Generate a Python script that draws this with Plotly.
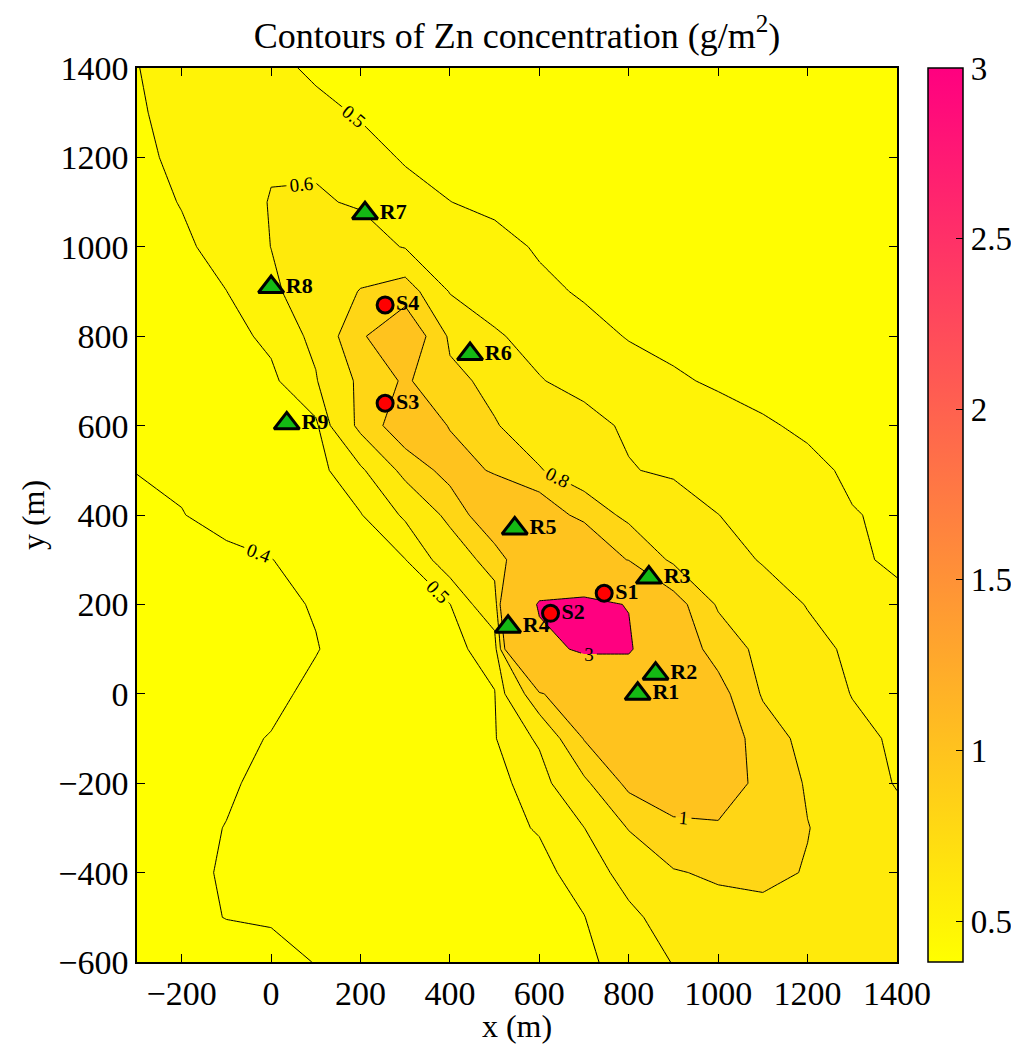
import plotly.graph_objects as go

# ---------------- data ----------------
x_grid = [-300, -200, -100, 0, 100, 200, 300, 400, 500, 600, 700, 800, 900, 1000, 1100, 1200, 1300, 1400]
y_grid = [-600, -500, -400, -300, -200, -100, 0, 100, 200, 300, 400, 500, 600, 700, 800, 900, 1000, 1100, 1200, 1300, 1400]

# Zn concentration (g/m^2), one row per y_grid value (bottom to top)
zn_conc = [
    [0.37, 0.375, 0.38, 0.39, 0.401, 0.41, 0.42, 0.435, 0.45, 0.465, 0.485, 0.53, 0.605, 0.66, 0.68, 0.67, 0.65, 0.62],
    [0.385, 0.39, 0.401, 0.403, 0.41, 0.42, 0.43, 0.44, 0.455, 0.47, 0.498, 0.57, 0.66, 0.72, 0.75, 0.74, 0.70, 0.65],
    [0.39, 0.395, 0.402, 0.41, 0.42, 0.43, 0.44, 0.45, 0.465, 0.48, 0.53, 0.65, 0.785, 0.83, 0.84, 0.79, 0.72, 0.66],
    [0.385, 0.39, 0.401, 0.41, 0.42, 0.435, 0.45, 0.465, 0.48, 0.505, 0.598, 0.81, 0.96, 0.98, 0.92, 0.805, 0.72, 0.65],
    [0.38, 0.385, 0.395, 0.41, 0.425, 0.44, 0.455, 0.465, 0.475, 0.54, 0.76, 1.05, 1.12, 1.10, 0.95, 0.78, 0.68, 0.59],
    [0.37, 0.38, 0.39, 0.402, 0.42, 0.44, 0.46, 0.475, 0.495, 0.62, 1.01, 1.2, 1.2, 1.15, 0.90, 0.737, 0.638, 0.58],
    [0.35, 0.36, 0.375, 0.39, 0.41, 0.43, 0.455, 0.478, 0.497, 0.95, 1.4, 1.4, 1.3, 1.08, 0.78, 0.684, 0.595, 0.56],
    [0.35, 0.36, 0.37, 0.385, 0.398, 0.42, 0.45, 0.48, 0.53, 2.6, 3.2, 3.2, 1.15, 0.92, 0.742, 0.646, 0.575, 0.53],
    [0.36, 0.37, 0.38, 0.39, 0.403, 0.43, 0.465, 0.498, 0.70, 3.15, 3.3, 2.95, 1.1, 0.776, 0.679, 0.593, 0.555, 0.515],
    [0.37, 0.38, 0.385, 0.398, 0.435, 0.466, 0.498, 0.668, 0.89, 1.3, 1.5, 0.97, 0.766, 0.666, 0.588, 0.549, 0.51, 0.49],
    [0.39, 0.398, 0.42, 0.445, 0.47, 0.495, 0.617, 0.85, 1.2, 1.2, 0.903, 0.759, 0.68, 0.601, 0.568, 0.535, 0.503, 0.49],
    [0.401, 0.41, 0.42, 0.44, 0.47, 0.57, 0.857, 1.08, 0.98, 0.81, 0.709, 0.607, 0.58, 0.558, 0.536, 0.515, 0.49, 0.48],
    [0.41, 0.42, 0.43, 0.45, 0.48, 0.85, 1.15, 0.99, 0.81, 0.72, 0.634, 0.584, 0.558, 0.532, 0.507, 0.49, 0.48, 0.47],
    [0.42, 0.43, 0.45, 0.48, 0.59, 0.84, 1.03, 0.84, 0.76, 0.605, 0.57, 0.54, 0.51, 0.49, 0.48, 0.47, 0.46, 0.45],
    [0.42, 0.44, 0.47, 0.52, 0.63, 0.97, 1.2, 0.77, 0.61, 0.57, 0.53, 0.495, 0.48, 0.47, 0.46, 0.45, 0.44, 0.43],
    [0.43, 0.46, 0.499, 0.58, 0.66, 0.81, 0.90, 0.59, 0.56, 0.52, 0.49, 0.47, 0.46, 0.45, 0.44, 0.44, 0.43, 0.43],
    [0.44, 0.48, 0.54, 0.601, 0.66, 0.67, 0.59, 0.56, 0.53, 0.49, 0.47, 0.46, 0.45, 0.44, 0.44, 0.43, 0.43, 0.42],
    [0.46, 0.505, 0.55, 0.605, 0.615, 0.585, 0.54, 0.501, 0.48, 0.47, 0.46, 0.45, 0.44, 0.44, 0.43, 0.43, 0.42, 0.42],
    [0.48, 0.52, 0.56, 0.59, 0.58, 0.54, 0.49, 0.47, 0.46, 0.45, 0.44, 0.43, 0.43, 0.42, 0.42, 0.42, 0.41, 0.41],
    [0.49, 0.53, 0.56, 0.56, 0.53, 0.49, 0.47, 0.45, 0.44, 0.43, 0.43, 0.42, 0.42, 0.42, 0.41, 0.41, 0.41, 0.41],
    [0.498, 0.53, 0.55, 0.53, 0.48, 0.46, 0.45, 0.44, 0.43, 0.43, 0.42, 0.42, 0.42, 0.41, 0.41, 0.41, 0.41, 0.41],
]

contour_levels = [0.4, 0.5, 0.6, 0.8, 1.0, 3.0]

receptor_names = ["R1", "R2", "R3", "R4", "R5", "R6", "R7", "R8", "R9"]
receptor_x = [820, 860, 845, 530, 545, 445, 210, 0, 35]
receptor_y = [0, 45, 260, 150, 370, 760, 1075, 910, 605]

source_names = ["S1", "S2", "S3", "S4"]
source_x = [745, 625, 255, 255]
source_y = [225, 180, 650, 870]

x_ticks = [-200, 0, 200, 400, 600, 800, 1000, 1200, 1400]
y_ticks = [-600, -400, -200, 0, 200, 400, 600, 800, 1000, 1200, 1400]
cbar_ticks = [0.5, 1, 1.5, 2, 2.5, 3]

# ---------------- style ----------------
CMIN, CMAX = 0.38, 3.0
C_LOW = (255, 255, 0)
C_HIGH = (255, 0, 128)
FONT = "Liberation Serif"


def cmap(v):
    t = (v - CMIN) / (CMAX - CMIN)
    t = min(max(t, 0.0), 1.0)
    r, g, b = (round(a + (b_ - a) * t) for a, b_ in zip(C_LOW, C_HIGH))
    return f"rgb({r},{g},{b})"


fig = go.Figure()

# filled bands: constraint "<" shades the region where z > level
for lev in contour_levels:
    fig.add_trace(go.Contour(
        x=x_grid, y=y_grid, z=zn_conc,
        contours=dict(type="constraint", operation="<", value=lev),
        fillcolor=cmap(lev), line=dict(width=0, smoothing=0),
        showscale=False, hoverinfo="skip",
    ))

# contour lines with labels
for lev in contour_levels:
    fig.add_trace(go.Contour(
        x=x_grid, y=y_grid, z=zn_conc,
        autocontour=False,
        contours=dict(start=lev, end=lev, size=0.1, coloring="lines",
                      showlabels=True, labelformat="~g",
                      labelfont=dict(family=FONT, size=19, color="black")),
        colorscale=[[0, "black"], [1, "black"]],
        line=dict(width=1, smoothing=0), showscale=False, hoverinfo="skip",
    ))

# colorbar carrier
fig.add_trace(go.Scatter(
    x=source_x[:1], y=source_y[:1], mode="markers",
    marker=dict(color=[CMIN], coloraxis="coloraxis", size=1, opacity=0),
    hoverinfo="skip", showlegend=False,
))

# receptors
fig.add_trace(go.Scatter(
    x=receptor_x, y=receptor_y, mode="markers+text", text=receptor_names,
    textposition="middle right",
    textfont=dict(family=FONT, size=22, color="black", weight="bold"),
    marker=dict(symbol="triangle-up", size=22, color="rgb(20,185,20)",
                line=dict(color="black", width=3)),
    hoverinfo="text", showlegend=False,
))

# sources
fig.add_trace(go.Scatter(
    x=source_x, y=source_y, mode="markers+text", text=source_names,
    textposition="middle right",
    textfont=dict(family=FONT, size=22, color="black", weight="bold"),
    marker=dict(symbol="circle", size=16, color="red",
                line=dict(color="black", width=3)),
    hoverinfo="text", showlegend=False,
))

axis_common = dict(
    showgrid=False, zeroline=False, showline=True, linecolor="black", linewidth=1.5,
    mirror="ticks", ticks="inside", ticklen=8, tickwidth=1, tickcolor="black",
    tickfont=dict(family=FONT, size=34, color="black"), automargin=False,
)

# page body has an 8px margin, so the figure is 8px smaller and margins shifted
fig.update_layout(
    width=1011, height=1036,
    margin=dict(l=129, r=122, t=60, b=82, autoexpand=False),
    paper_bgcolor="white",
    plot_bgcolor=cmap(CMIN),
    font=dict(family=FONT, size=30, color="black"),
    showlegend=False,
    title=dict(text="Contours of Zn concentration (g/m<sup>2</sup>)",
               x=0.5, xref="paper", xanchor="center",
               y=1 - 27 / 1036, yref="container", yanchor="middle",
               font=dict(family=FONT, size=36, color="black")),
    xaxis=dict(range=[-300, 1400], tickvals=x_ticks,
               title=dict(text="x (m)", standoff=0, font=dict(family=FONT, size=32)),
               **axis_common),
    yaxis=dict(range=[-600, 1400], tickvals=y_ticks,
               title=dict(text="y (m)", standoff=4, font=dict(family=FONT, size=32)),
               **axis_common),
    coloraxis=dict(
        cmin=CMIN, cmax=CMAX,
        colorscale=[[0, cmap(CMIN)], [1, cmap(CMAX)]],
        colorbar=dict(x=1.041, xanchor="left", y=0.5, yanchor="middle",
                      len=1, lenmode="fraction", thickness=35, thicknessmode="pixels",
                      outlinewidth=1.5, outlinecolor="black",
                      ticks="inside", ticklen=7, tickcolor="black",
                      tickvals=cbar_ticks, tickfont=dict(family=FONT, size=33),
                      xpad=0, ypad=0),
    ),
)

fig.write_html("out.html")
